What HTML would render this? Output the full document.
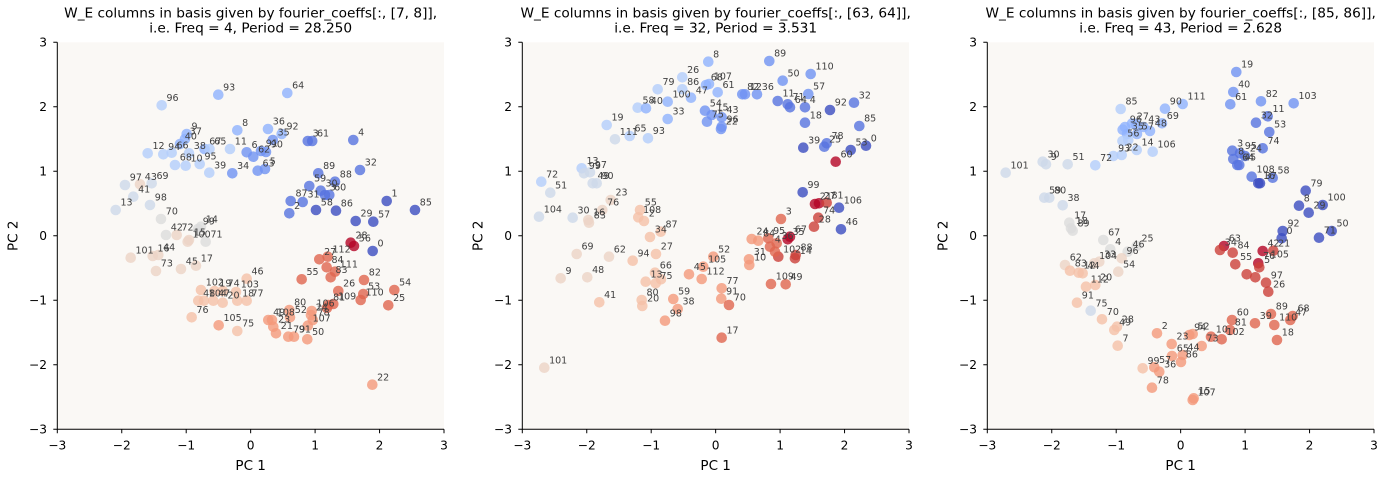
<!DOCTYPE html>
<html><head><meta charset="utf-8"><style>
html,body{margin:0;padding:0;background:#fff}
svg{display:block}
text{font-family:"DejaVu Sans","Liberation Sans",sans-serif}
.pts circle{opacity:.8}
.lb text{font-size:9.5px;fill:#404040}
.tk{font-size:12.2px;fill:#000}
.ax{font-size:13.5px;fill:#000}
.ti{font-size:13.7px;fill:#000}
.b1{fill:#3b4cc0}.b2{fill:#5673e0}.b3{fill:#6f92f3}.b4{fill:#8fb1fe}.b5{fill:#b3cdfb}
.g{fill:#cdd8ea}.g2{fill:#dcdcdc}.t{fill:#ecd3c5}.s1{fill:#f5c0a7}.s2{fill:#f4987a}
.r1{fill:#e0654f}.r2{fill:#cc403a}.r3{fill:#b40426}
</style></head><body>
<svg width="1386" height="481" viewBox="0 0 1386 481" xmlns="http://www.w3.org/2000/svg">
<defs>
<g id="axes">
<rect x="57.3" y="42.3" width="386.7" height="387" fill="#faf8f5"/>
</g>
<g id="frame">
<path d="M57.3 42.3V429.3H444" fill="none" stroke="#000" stroke-width="1"/>
<path d="M53.3 42.3H57.3M53.3 106.8H57.3M53.3 171.3H57.3M53.3 235.8H57.3M53.3 300.3H57.3M53.3 364.8H57.3M53.3 429.3H57.3M57.3 429.3V433.3M121.75 429.3V433.3M186.2 429.3V433.3M250.65 429.3V433.3M315.1 429.3V433.3M379.55 429.3V433.3M444 429.3V433.3" stroke="#000" stroke-width="1"/>
<g class="tk" text-anchor="end">
<text x="47" y="46.7">3</text><text x="47" y="111.2">2</text><text x="47" y="175.7">1</text><text x="47" y="240.2">0</text><text x="47" y="304.7">−1</text><text x="47" y="369.2">−2</text><text x="47" y="433.7">−3</text>
</g>
<g class="tk" text-anchor="middle">
<text x="57.3" y="449.3">−3</text><text x="121.75" y="449.3">−2</text><text x="186.2" y="449.3">−1</text><text x="250.65" y="449.3">0</text><text x="315.1" y="449.3">1</text><text x="379.55" y="449.3">2</text><text x="444" y="449.3">3</text>
</g>
<text class="ax" x="250.65" y="470" text-anchor="middle">PC 1</text>
<text class="ax" transform="translate(17.5,235.8) rotate(-90)" text-anchor="middle">PC 2</text>
</g>
</defs>

<!-- Panel 1 -->
<g>
<use href="#axes"/>
<g class="pts">
<circle r="5.3" cx="161.7" cy="105.3" class="b5"/><circle r="5.3" cx="218.3" cy="94.7" class="b4"/><circle r="5.3" cx="287.3" cy="93" class="b4"/><circle r="5.3" cx="186.7" cy="134" class="b4"/><circle r="5.3" cx="185" cy="139" class="b4"/><circle r="5.3" cx="180" cy="144" class="b4"/><circle r="5.3" cx="147.7" cy="153.3" class="b5"/><circle r="5.3" cx="163.3" cy="154.3" class="b5"/><circle r="5.3" cx="171.7" cy="152.7" class="b5"/><circle r="5.3" cx="189" cy="153.3" class="b5"/><circle r="5.3" cx="204.5" cy="149" class="b4"/><circle r="5.3" cx="209.5" cy="149" class="b5"/><circle r="5.3" cx="230" cy="149" class="b5"/><circle r="5.3" cx="237.3" cy="130.3" class="b4"/><circle r="5.3" cx="268" cy="129" class="b4"/><circle r="5.3" cx="272.8" cy="140" class="b3"/><circle r="5.3" cx="281.7" cy="134" class="b4"/><circle r="5.3" cx="246.7" cy="152.3" class="b3"/><circle r="5.3" cx="253.3" cy="156.7" class="b3"/><circle r="5.3" cx="261" cy="151" class="b3"/><circle r="5.3" cx="266" cy="152" class="b3"/><circle r="5.3" cx="257.7" cy="170.7" class="b3"/><circle r="5.3" cx="265" cy="169" class="b3"/><circle r="5.3" cx="232.3" cy="173.3" class="b3"/><circle r="5.3" cx="209.3" cy="172.7" class="b5"/><circle r="5.3" cx="175" cy="165" class="b5"/><circle r="5.3" cx="185.7" cy="165.7" class="b5"/><circle r="5.3" cx="199.7" cy="164" class="b5"/>
<circle r="5.3" cx="125" cy="185" class="g"/><circle r="5.3" cx="140" cy="184.3" class="t"/><circle r="5.3" cx="151.7" cy="183.3" class="g"/><circle r="5.3" cx="133.3" cy="196.7" class="g"/><circle r="5.3" cx="150" cy="205" class="g"/><circle r="5.3" cx="115.7" cy="210" class="g"/><circle r="5.3" cx="161" cy="219" class="g2"/><circle r="5.3" cx="201" cy="226.7" class="g2"/><circle r="5.3" cx="198" cy="229" class="g2"/><circle r="5.3" cx="166" cy="235" class="g2"/><circle r="5.3" cx="176.7" cy="235" class="t"/><circle r="5.3" cx="189" cy="240" class="t"/><circle r="5.3" cx="187.7" cy="241.7" class="t"/><circle r="5.3" cx="205.7" cy="241.7" class="g2"/>
<circle r="5.3" cx="130.7" cy="257.7" class="t"/><circle r="5.3" cx="152.7" cy="256" class="t"/><circle r="5.3" cx="158.3" cy="255" class="t"/><circle r="5.3" cx="156" cy="271" class="t"/><circle r="5.3" cx="181" cy="269" class="t"/><circle r="5.3" cx="196" cy="265.7" class="t"/>
<circle r="5.3" cx="246.7" cy="278.7" class="s1"/><circle r="5.3" cx="201" cy="290" class="s1"/><circle r="5.3" cx="214.5" cy="291" class="s1"/><circle r="5.3" cx="222.8" cy="291" class="s1"/><circle r="5.3" cx="236" cy="292" class="s1"/><circle r="5.3" cx="198.3" cy="300.7" class="s1"/><circle r="5.3" cx="204" cy="300.7" class="s1"/><circle r="5.3" cx="213.3" cy="300.7" class="s1"/><circle r="5.3" cx="222.7" cy="302.7" class="s1"/><circle r="5.3" cx="237.3" cy="300.7" class="s1"/><circle r="5.3" cx="246.7" cy="300.7" class="s1"/><circle r="5.3" cx="191.7" cy="317.3" class="s1"/><circle r="5.3" cx="218.7" cy="325.3" class="s2"/><circle r="5.3" cx="237.3" cy="331" class="s1"/>
<circle r="5.3" cx="289.3" cy="310" class="s2"/><circle r="5.3" cx="290" cy="317.3" class="s2"/><circle r="5.3" cx="268.3" cy="320" class="s2"/><circle r="5.3" cx="272" cy="320" class="s2"/><circle r="5.3" cx="273.3" cy="326.7" class="s2"/><circle r="5.3" cx="276" cy="333.3" class="s2"/><circle r="5.3" cx="288.3" cy="336.7" class="s2"/><circle r="5.3" cx="294" cy="336.7" class="s2"/><circle r="5.3" cx="307.3" cy="339.3" class="s2"/><circle r="5.3" cx="311" cy="315" class="s2"/><circle r="5.3" cx="312.8" cy="320" class="s2"/><circle r="5.3" cx="307.8" cy="325.7" class="s2"/><circle r="5.3" cx="311.7" cy="311" class="s2"/>
<circle r="5.3" cx="327" cy="308" class="r1"/><circle r="5.3" cx="328.3" cy="305" class="r1"/><circle r="5.3" cx="333.3" cy="304" class="r1"/><circle r="5.3" cx="338.3" cy="291" class="r1"/><circle r="5.3" cx="301.7" cy="279.3" class="r1"/><circle r="5.3" cx="319.3" cy="259.3" class="r1"/><circle r="5.3" cx="327.7" cy="256.7" class="r1"/><circle r="5.3" cx="326.7" cy="267.3" class="r1"/><circle r="5.3" cx="335" cy="271.7" class="r1"/><circle r="5.3" cx="330.7" cy="277.3" class="r1"/><circle r="5.3" cx="350.7" cy="242.7" class="r3"/><circle r="5.3" cx="354" cy="246" class="r3"/><circle r="5.3" cx="372.7" cy="251" class="b1"/><circle r="5.3" cx="364" cy="280" class="r1"/><circle r="5.3" cx="363.3" cy="294" class="r1"/><circle r="5.3" cx="360.7" cy="300" class="r1"/><circle r="5.3" cx="394.3" cy="290" class="r1"/><circle r="5.3" cx="388.3" cy="305.3" class="r1"/><circle r="5.3" cx="372.3" cy="384.7" class="s2"/>
<circle r="5.3" cx="307.8" cy="141" class="b2"/><circle r="5.3" cx="312.2" cy="141" class="b2"/><circle r="5.3" cx="353.3" cy="140" class="b2"/><circle r="5.3" cx="360" cy="170" class="b2"/><circle r="5.3" cx="318.3" cy="173.3" class="b2"/><circle r="5.3" cx="335" cy="181.7" class="b2"/><circle r="5.3" cx="309.3" cy="186" class="b2"/><circle r="5.3" cx="320.7" cy="190.7" class="b2"/><circle r="5.3" cx="325" cy="195" class="b2"/><circle r="5.3" cx="329.3" cy="195" class="b2"/><circle r="5.3" cx="290.7" cy="201" class="b2"/><circle r="5.3" cx="302.7" cy="202" class="b2"/><circle r="5.3" cx="289.3" cy="213.3" class="b2"/><circle r="5.3" cx="316" cy="210" class="b1"/><circle r="5.3" cx="336" cy="210.7" class="b1"/><circle r="5.3" cx="386.7" cy="201" class="b1"/><circle r="5.3" cx="415" cy="210" class="b1"/><circle r="5.3" cx="355.7" cy="221" class="b1"/><circle r="5.3" cx="373.3" cy="221.7" class="b1"/>
</g>
<g class="lb" transform="translate(4.8,-4.3)">
<text x="161.7" y="105.3">96</text><text x="218.3" y="94.7">93</text><text x="287.3" y="93">64</text><text x="186.7" y="134">9</text><text x="185" y="139">37</text><text x="180" y="144">40</text><text x="147.7" y="153.3">12</text><text x="163.3" y="154.3">94</text><text x="171.7" y="152.7">66</text><text x="189" y="153.3">38</text><text x="204.5" y="149">67</text><text x="209.5" y="149">65</text><text x="230" y="149">11</text><text x="237.3" y="130.3">8</text><text x="268" y="129">36</text><text x="272.8" y="140">35</text><text x="281.7" y="134">92</text><text x="246.7" y="152.3">6</text><text x="253.3" y="156.7">62</text><text x="261" y="151">91</text><text x="266" y="152">90</text><text x="257.7" y="170.7">63</text><text x="265" y="169">5</text><text x="232.3" y="173.3">34</text><text x="209.3" y="172.7">39</text><text x="175" y="165">68</text><text x="185.7" y="165.7">10</text><text x="199.7" y="164">95</text>
<text x="125" y="185">97</text><text x="140" y="184.3">43</text><text x="151.7" y="183.3">69</text><text x="133.3" y="196.7">41</text><text x="150" y="205">98</text><text x="115.7" y="210">13</text><text x="161" y="219">70</text><text x="201" y="226.7">14</text><text x="198" y="229">99</text><text x="166" y="235">42</text><text x="176.7" y="235">72</text><text x="189" y="240">15</text><text x="187.7" y="241.7">100</text><text x="205.7" y="241.7">71</text>
<text x="130.7" y="257.7">101</text><text x="152.7" y="256">16</text><text x="158.3" y="255">44</text><text x="156" y="271">73</text><text x="181" y="269">45</text><text x="196" y="265.7">17</text>
<text x="246.7" y="278.7">46</text><text x="201" y="290">102</text><text x="214.5" y="291">19</text><text x="222.8" y="291">74</text><text x="236" y="292">103</text><text x="198.3" y="300.7">48</text><text x="204" y="300.7">104</text><text x="213.3" y="300.7">47</text><text x="222.7" y="302.7">20</text><text x="237.3" y="300.7">18</text><text x="246.7" y="300.7">77</text><text x="191.7" y="317.3">76</text><text x="218.7" y="325.3">105</text><text x="237.3" y="331">75</text>
<text x="289.3" y="310">80</text><text x="290" y="317.3">52</text><text x="268.3" y="320">49</text><text x="272" y="320">108</text><text x="273.3" y="326.7">23</text><text x="276" y="333.3">21</text><text x="288.3" y="336.7">79</text><text x="294" y="336.7">91</text><text x="307.3" y="339.3">50</text><text x="311" y="315">24</text><text x="312.8" y="320">78</text><text x="307.8" y="325.7">107</text><text x="311.7" y="311">106</text>
<text x="328.3" y="305">81</text><text x="333.3" y="304">109</text><text x="338.3" y="291">26</text><text x="301.7" y="279.3">55</text><text x="319.3" y="259.3">27</text><text x="327.7" y="256.7">112</text><text x="326.7" y="267.3">84</text><text x="335" y="271.7">111</text><text x="330.7" y="277.3">83</text><text x="350.7" y="242.7">28</text><text x="354" y="246">56</text><text x="372.7" y="251">0</text><text x="364" y="280">82</text><text x="363.3" y="294">53</text><text x="360.7" y="300">110</text><text x="394.3" y="290">54</text><text x="388.3" y="305.3">25</text><text x="372.3" y="384.7">22</text>
<text x="307.8" y="141">3</text><text x="312.2" y="141">61</text><text x="353.3" y="140">4</text><text x="360" y="170">32</text><text x="318.3" y="173.3">89</text><text x="335" y="181.7">88</text><text x="309.3" y="186">59</text><text x="320.7" y="190.7">30</text><text x="325" y="195">3</text><text x="329.3" y="195">60</text><text x="290.7" y="201">87</text><text x="302.7" y="202">31</text><text x="289.3" y="213.3">2</text><text x="316" y="210">58</text><text x="336" y="210.7">86</text><text x="386.7" y="201">1</text><text x="415" y="210">85</text><text x="355.7" y="221">29</text><text x="373.3" y="221.7">57</text>
</g>
<use href="#frame"/>
<text class="ti" x="250.65" y="17.3" text-anchor="middle">W_E columns in basis given by fourier_coeffs[:, [7, 8]],</text>
<text class="ti" x="250.65" y="32.7" text-anchor="middle">i.e. Freq = 4, Period = 28.250</text>
</g>

<!-- Panel 2 -->
<g transform="translate(465,0)">
<use href="#axes"/>
<g class="pts">
<circle r="5.3" cx="243.3" cy="61.7" class="b4"/><circle r="5.3" cx="304.3" cy="61" class="b3"/><circle r="5.3" cx="345.7" cy="74" class="b3"/><circle r="5.3" cx="317.7" cy="80.7" class="b3"/><circle r="5.3" cx="343.3" cy="94" class="b3"/><circle r="5.3" cx="217.3" cy="77.3" class="b5"/><circle r="5.3" cx="241" cy="85" class="b4"/><circle r="5.3" cx="244" cy="84" class="b4"/><circle r="5.3" cx="252.7" cy="92.3" class="b4"/><circle r="5.3" cx="192.7" cy="89.3" class="b5"/><circle r="5.3" cx="217.3" cy="89.3" class="b5"/><circle r="5.3" cx="226" cy="97.7" class="b4"/><circle r="5.3" cx="202.7" cy="101.7" class="b4"/><circle r="5.3" cx="172.7" cy="107.7" class="b5"/><circle r="5.3" cx="181" cy="108.3" class="b4"/><circle r="5.3" cx="202.7" cy="119" class="b4"/>
<circle r="5.3" cx="277.3" cy="94.3" class="b3"/><circle r="5.3" cx="280" cy="94.3" class="b3"/><circle r="5.3" cx="292" cy="94.3" class="b3"/><circle r="5.3" cx="312.7" cy="101" class="b2"/><circle r="5.3" cx="322.7" cy="104.3" class="b2"/><circle r="5.3" cx="325" cy="107.3" class="b2"/><circle r="5.3" cx="340" cy="107.3" class="b2"/><circle r="5.3" cx="365" cy="110" class="b1"/><circle r="5.3" cx="389" cy="102.7" class="b2"/><circle r="5.3" cx="394.3" cy="126" class="b2"/><circle r="5.3" cx="340" cy="122.7" class="b2"/>
<circle r="5.3" cx="240" cy="110.7" class="b3"/><circle r="5.3" cx="246.7" cy="115" class="b3"/><circle r="5.3" cx="256.7" cy="117.3" class="b3"/><circle r="5.3" cx="242" cy="121.7" class="b3"/><circle r="5.3" cx="256.7" cy="126.7" class="b3"/><circle r="5.3" cx="256" cy="129" class="b3"/>
<circle r="5.3" cx="141.7" cy="125" class="b5"/><circle r="5.3" cx="150" cy="139.3" class="g"/><circle r="5.3" cx="164.7" cy="136" class="b5"/><circle r="5.3" cx="183" cy="138.3" class="b5"/>
<circle r="5.3" cx="338.3" cy="147.7" class="b1"/><circle r="5.3" cx="361.7" cy="143.3" class="b2"/><circle r="5.3" cx="359.3" cy="146.7" class="b2"/><circle r="5.3" cx="385.7" cy="150" class="b1"/><circle r="5.3" cx="401" cy="145.7" class="b1"/><circle r="5.3" cx="370.7" cy="161.7" class="r3"/>
<circle r="5.3" cx="116.7" cy="168.3" class="b5"/><circle r="5.3" cx="119" cy="173.3" class="g"/><circle r="5.3" cx="125" cy="172.3" class="g"/><circle r="5.3" cx="127.7" cy="183.3" class="g"/><circle r="5.3" cx="131.7" cy="183.3" class="g"/><circle r="5.3" cx="76.3" cy="181.7" class="b5"/><circle r="5.3" cx="85.3" cy="192.7" class="g"/><circle r="5.3" cx="145.7" cy="200" class="t"/><circle r="5.3" cx="137.3" cy="210" class="t"/><circle r="5.3" cx="74" cy="216.7" class="g"/><circle r="5.3" cx="107.7" cy="217.7" class="g"/><circle r="5.3" cx="123.3" cy="220" class="t"/><circle r="5.3" cx="124" cy="222.7" class="t"/>
<circle r="5.3" cx="175" cy="210" class="s1"/><circle r="5.3" cx="173.3" cy="217.3" class="s1"/><circle r="5.3" cx="179" cy="221" class="s1"/><circle r="5.3" cx="185" cy="237" class="s1"/><circle r="5.3" cx="195.7" cy="231.7" class="s1"/>
<circle r="5.3" cx="337.7" cy="192.3" class="b1"/><circle r="5.3" cx="350" cy="204" class="r3"/><circle r="5.3" cx="354" cy="203.3" class="r3"/><circle r="5.3" cx="361.7" cy="202.7" class="r2"/><circle r="5.3" cx="374" cy="207.7" class="b1"/><circle r="5.3" cx="353.3" cy="217.7" class="r2"/><circle r="5.3" cx="349" cy="226.7" class="r2"/><circle r="5.3" cx="316" cy="219" class="r1"/><circle r="5.3" cx="376" cy="229.3" class="b1"/>
<circle r="5.3" cx="95.7" cy="278.3" class="t"/><circle r="5.3" cx="111.7" cy="254" class="t"/><circle r="5.3" cx="144" cy="256.7" class="t"/><circle r="5.3" cx="122.3" cy="277.3" class="t"/><circle r="5.3" cx="167.7" cy="260.7" class="s1"/><circle r="5.3" cx="191" cy="254" class="s1"/><circle r="5.3" cx="134.3" cy="302.3" class="s1"/><circle r="5.3" cx="190" cy="272.7" class="s1"/><circle r="5.3" cx="180.7" cy="281.7" class="s1"/><circle r="5.3" cx="190.7" cy="283.3" class="s1"/><circle r="5.3" cx="196" cy="279.3" class="s1"/>
<circle r="5.3" cx="224" cy="274.3" class="s2"/><circle r="5.3" cx="238.3" cy="266.7" class="s2"/><circle r="5.3" cx="248.3" cy="256.7" class="s2"/><circle r="5.3" cx="236.7" cy="279" class="s2"/><circle r="5.3" cx="176.7" cy="300" class="s1"/><circle r="5.3" cx="177.3" cy="306" class="s1"/><circle r="5.3" cx="208.3" cy="299" class="s2"/><circle r="5.3" cx="212.7" cy="309" class="s2"/><circle r="5.3" cx="200" cy="320.7" class="s2"/><circle r="5.3" cx="256.7" cy="288.3" class="s2"/><circle r="5.3" cx="256.3" cy="298.7" class="s2"/><circle r="5.3" cx="264" cy="305" class="r1"/><circle r="5.3" cx="256.7" cy="337.7" class="r1"/><circle r="5.3" cx="79.3" cy="367.7" class="t"/>
<circle r="5.3" cx="284" cy="259.3" class="s2"/><circle r="5.3" cx="284.3" cy="265" class="s2"/><circle r="5.3" cx="286.7" cy="239" class="s2"/><circle r="5.3" cx="293.3" cy="240.7" class="s2"/><circle r="5.3" cx="303.3" cy="238.3" class="r1"/><circle r="5.3" cx="305" cy="246.7" class="r1"/><circle r="5.3" cx="322.7" cy="239.3" class="r3"/><circle r="5.3" cx="325" cy="236.7" class="r3"/><circle r="5.3" cx="311.7" cy="243.3" class="r1"/><circle r="5.3" cx="313.3" cy="256.7" class="r2"/><circle r="5.3" cx="310" cy="251.7" class="r1"/><circle r="5.3" cx="330.7" cy="255" class="r2"/><circle r="5.3" cx="330" cy="258.3" class="r2"/><circle r="5.3" cx="306" cy="284" class="r1"/><circle r="5.3" cx="320.7" cy="284.3" class="r1"/>
</g>
<g class="lb" transform="translate(4.8,-4.3)">
<text x="243.3" y="61.7">8</text><text x="304.3" y="61">89</text><text x="345.7" y="74">110</text><text x="317.7" y="80.7">50</text><text x="343.3" y="94">57</text><text x="217.3" y="77.3">26</text><text x="241" y="85">68</text><text x="244" y="84">107</text><text x="252.7" y="92.3">61</text><text x="192.7" y="89.3">79</text><text x="217.3" y="89.3">86</text><text x="226" y="97.7">47</text><text x="202.7" y="101.7">100</text><text x="172.7" y="107.7">58</text><text x="181" y="108.3">40</text><text x="202.7" y="119">33</text>
<text x="277.3" y="94.3">82</text><text x="280" y="94.3">12</text><text x="292" y="94.3">36</text><text x="312.7" y="101">11</text><text x="322.7" y="104.3">71</text><text x="325" y="107.3">64</text><text x="340" y="107.3">4</text><text x="365" y="110">92</text><text x="389" y="102.7">32</text><text x="394.3" y="126">85</text><text x="340" y="122.7">18</text>
<text x="240" y="110.7">54</text><text x="246.7" y="115">15</text><text x="256.7" y="117.3">43</text><text x="242" y="121.7">75</text><text x="256.7" y="126.7">96</text><text x="256" y="129">22</text>
<text x="141.7" y="125">19</text><text x="150" y="139.3">111</text><text x="164.7" y="136">65</text><text x="183" y="138.3">93</text>
<text x="338.3" y="147.7">39</text><text x="361.7" y="143.3">78</text><text x="359.3" y="146.7">25</text><text x="385.7" y="150">53</text><text x="401" y="145.7">0</text><text x="370.7" y="161.7">60</text>
<text x="116.7" y="168.3">13</text><text x="119" y="173.3">99</text><text x="125" y="172.3">97</text><text x="127.7" y="183.3">49</text><text x="131.7" y="183.3">90</text><text x="76.3" y="181.7">72</text><text x="85.3" y="192.7">51</text><text x="145.7" y="200">23</text><text x="137.3" y="210">76</text><text x="74" y="216.7">104</text><text x="107.7" y="217.7">30</text><text x="123.3" y="220">16</text><text x="124" y="222.7">83</text>
<text x="175" y="210">55</text><text x="173.3" y="217.3">108</text><text x="179" y="221">2</text><text x="185" y="237">34</text><text x="195.7" y="231.7">87</text>
<text x="337.7" y="192.3">99</text><text x="350" y="204">21</text><text x="354" y="203.3">27</text><text x="361.7" y="202.7">81</text><text x="374" y="207.7">106</text><text x="353.3" y="217.7">74</text><text x="349" y="226.7">28</text><text x="316" y="219">3</text><text x="376" y="229.3">46</text>
<text x="95.7" y="278.3">9</text><text x="111.7" y="254">69</text><text x="144" y="256.7">62</text><text x="122.3" y="277.3">48</text><text x="167.7" y="260.7">94</text><text x="191" y="254">27</text><text x="134.3" y="302.3">41</text><text x="190" y="272.7">66</text><text x="180.7" y="281.7">13</text><text x="190.7" y="283.3">75</text>
<text x="224" y="274.3">45</text><text x="238.3" y="266.7">105</text><text x="248.3" y="256.7">52</text><text x="236.7" y="279">112</text><text x="176.7" y="300">80</text><text x="177.3" y="306">20</text><text x="208.3" y="299">59</text><text x="212.7" y="309">38</text><text x="200" y="320.7">98</text><text x="256.7" y="288.3">77</text><text x="256.3" y="298.7">91</text><text x="264" y="305">70</text><text x="256.7" y="337.7">17</text><text x="79.3" y="367.7">101</text>
<text x="284" y="259.3">31</text><text x="284.3" y="265">10</text><text x="286.7" y="239">24</text><text x="293.3" y="240.7">84</text><text x="303.3" y="238.3">95</text><text x="305" y="246.7">4</text><text x="322.7" y="239.3">35</text><text x="325" y="236.7">67</text><text x="311.7" y="243.3">36</text><text x="313.3" y="256.7">102</text><text x="330.7" y="255">88</text><text x="330" y="258.3">14</text><text x="306" y="284">109</text><text x="320.7" y="284.3">49</text>
</g>
<use href="#frame"/>
<text class="ti" x="250.65" y="17.3" text-anchor="middle">W_E columns in basis given by fourier_coeffs[:, [63, 64]],</text>
<text class="ti" x="250.65" y="32.7" text-anchor="middle">i.e. Freq = 32, Period = 3.531</text>
</g>

<!-- Panel 3 -->
<g transform="translate(930,0)">
<use href="#axes"/>
<g class="pts">
<circle r="5.3" cx="306.3" cy="72" class="b3"/><circle r="5.3" cx="303.3" cy="92" class="b3"/><circle r="5.3" cx="300.3" cy="104.3" class="b3"/><circle r="5.3" cx="331" cy="101.3" class="b3"/><circle r="5.3" cx="363.7" cy="103.3" class="b3"/><circle r="5.3" cx="337.7" cy="116.3" class="b2"/><circle r="5.3" cx="326" cy="122.7" class="b2"/><circle r="5.3" cx="339.3" cy="132" class="b2"/><circle r="5.3" cx="332.7" cy="148.3" class="b2"/>
<circle r="5.3" cx="190.7" cy="109" class="b5"/><circle r="5.3" cx="235" cy="108.7" class="b4"/><circle r="5.3" cx="252.7" cy="104" class="b4"/><circle r="5.3" cx="232" cy="123.3" class="b4"/><circle r="5.3" cx="195" cy="127" class="b4"/><circle r="5.3" cx="202" cy="123.6" class="b4"/><circle r="5.3" cx="206" cy="124" class="b4"/><circle r="5.3" cx="213.5" cy="127" class="b4"/><circle r="5.3" cx="220" cy="131" class="b4"/><circle r="5.3" cx="192.7" cy="129.7" class="b4"/><circle r="5.3" cx="197" cy="134" class="b4"/><circle r="5.3" cx="207" cy="134" class="b4"/><circle r="5.3" cx="192.5" cy="141" class="b5"/><circle r="5.3" cx="191.7" cy="155" class="b5"/><circle r="5.3" cx="206.7" cy="150" class="b5"/><circle r="5.3" cx="198.3" cy="140" class="b5"/><circle r="5.3" cx="222.7" cy="151.7" class="b5"/><circle r="5.3" cx="165.3" cy="165.3" class="b5"/><circle r="5.3" cx="183.3" cy="156" class="b5"/>
<circle r="5.3" cx="112.7" cy="161.7" class="g"/><circle r="5.3" cx="116" cy="164.3" class="g"/><circle r="5.3" cx="137.7" cy="164.3" class="g"/><circle r="5.3" cx="75.7" cy="172.7" class="g"/><circle r="5.3" cx="114.3" cy="197.7" class="g"/><circle r="5.3" cx="119.3" cy="197.7" class="g"/><circle r="5.3" cx="132.7" cy="205.3" class="g"/><circle r="5.3" cx="139.3" cy="222.7" class="g2"/><circle r="5.3" cx="141" cy="228.3" class="g2"/><circle r="5.3" cx="142.7" cy="230.7" class="g2"/>
<circle r="5.3" cx="302.3" cy="150.7" class="b2"/><circle r="5.3" cx="303.3" cy="159" class="b2"/><circle r="5.3" cx="307.3" cy="165" class="b2"/><circle r="5.3" cx="309.3" cy="165" class="b2"/><circle r="5.3" cx="310" cy="153.3" class="b2"/><circle r="5.3" cx="315" cy="156" class="b2"/><circle r="5.3" cx="321.7" cy="176.7" class="b2"/><circle r="5.3" cx="328.3" cy="183.3" class="b1"/><circle r="5.3" cx="330" cy="183.3" class="b1"/><circle r="5.3" cx="342.7" cy="177.7" class="b2"/>
<circle r="5.3" cx="375.7" cy="190.7" class="b1"/><circle r="5.3" cx="369" cy="205.7" class="b1"/><circle r="5.3" cx="378.7" cy="212.7" class="b1"/><circle r="5.3" cx="392.7" cy="205" class="b1"/><circle r="5.3" cx="352.7" cy="231" class="b1"/><circle r="5.3" cx="351.7" cy="238.3" class="b1"/><circle r="5.3" cx="401.7" cy="231" class="b1"/><circle r="5.3" cx="389" cy="237.7" class="b1"/>
<circle r="5.3" cx="173.3" cy="240" class="g2"/><circle r="5.3" cx="180.3" cy="249.3" class="g2"/><circle r="5.3" cx="206.7" cy="246" class="g2"/><circle r="5.3" cx="197.7" cy="251.7" class="g2"/><circle r="5.3" cx="191.7" cy="258.3" class="t"/><circle r="5.3" cx="169.3" cy="261.7" class="t"/><circle r="5.3" cx="188.3" cy="271.7" class="t"/><circle r="5.3" cx="135" cy="265" class="t"/><circle r="5.3" cx="140" cy="270.7" class="s1"/><circle r="5.3" cx="148.7" cy="272.7" class="s1"/><circle r="5.3" cx="152.7" cy="273.3" class="s1"/><circle r="5.3" cx="164.3" cy="263.3" class="t"/><circle r="5.3" cx="156" cy="286.7" class="s1"/><circle r="5.3" cx="165.3" cy="285" class="s1"/><circle r="5.3" cx="147" cy="302.7" class="s1"/><circle r="5.3" cx="160.7" cy="310.7" class="g"/><circle r="5.3" cx="172" cy="319.3" class="s1"/><circle r="5.3" cx="187" cy="326.7" class="s1"/><circle r="5.3" cx="184.3" cy="330" class="s1"/><circle r="5.3" cx="187.7" cy="345.7" class="s1"/>
<circle r="5.3" cx="227" cy="333.3" class="s2"/><circle r="5.3" cx="241.7" cy="344" class="s2"/><circle r="5.3" cx="259.3" cy="335" class="s2"/><circle r="5.3" cx="262.7" cy="334" class="s2"/><circle r="5.3" cx="242" cy="356" class="s2"/><circle r="5.3" cx="252.7" cy="355" class="s2"/><circle r="5.3" cx="251" cy="362" class="s2"/><circle r="5.3" cx="212.7" cy="368.3" class="s1"/><circle r="5.3" cx="224.3" cy="367.3" class="s2"/><circle r="5.3" cx="229.3" cy="371.7" class="s2"/><circle r="5.3" cx="222" cy="387.7" class="s2"/><circle r="5.3" cx="263.7" cy="398.3" class="s2"/><circle r="5.3" cx="262.7" cy="400" class="s2"/><circle r="5.3" cx="271.7" cy="346" class="s2"/>
<circle r="5.3" cx="281" cy="336.7" class="r1"/><circle r="5.3" cx="291.7" cy="339.3" class="r1"/><circle r="5.3" cx="302" cy="320" class="r1"/><circle r="5.3" cx="300" cy="330" class="r1"/><circle r="5.3" cx="325" cy="323.3" class="r1"/><circle r="5.3" cx="341" cy="314" class="r1"/><circle r="5.3" cx="344.3" cy="325" class="r1"/><circle r="5.3" cx="362.7" cy="316" class="r1"/><circle r="5.3" cx="360.3" cy="320" class="r1"/><circle r="5.3" cx="347" cy="340" class="r1"/>
<circle r="5.3" cx="294" cy="246" class="r3"/><circle r="5.3" cx="290" cy="250" class="r2"/><circle r="5.3" cx="302.7" cy="252.7" class="r2"/><circle r="5.3" cx="332.7" cy="251" class="r3"/><circle r="5.3" cx="343.3" cy="250.7" class="r2"/><circle r="5.3" cx="305.3" cy="264.3" class="r2"/><circle r="5.3" cx="328.3" cy="263.3" class="r3"/><circle r="5.3" cx="329.3" cy="267.3" class="r2"/><circle r="5.3" cx="336" cy="282.7" class="r2"/><circle r="5.3" cx="338.3" cy="291.7" class="r2"/><circle r="5.3" cx="316.7" cy="274.3" class="r2"/><circle r="5.3" cx="325.3" cy="277.3" class="r2"/>
</g>
<g class="lb" transform="translate(4.8,-4.3)">
<text x="306.3" y="72">19</text><text x="303.3" y="92">40</text><text x="300.3" y="104.3">61</text><text x="331" y="101.3">82</text><text x="363.7" y="103.3">103</text><text x="337.7" y="116.3">11</text><text x="326" y="122.7">32</text><text x="339.3" y="132">53</text><text x="332.7" y="148.3">74</text>
<text x="190.7" y="109">85</text><text x="235" y="108.7">90</text><text x="252.7" y="104">111</text><text x="232" y="123.3">69</text><text x="195" y="127">96</text><text x="202" y="123.6">27</text><text x="213.5" y="127">43</text><text x="220" y="131">48</text><text x="197" y="134">35</text><text x="207" y="134">57</text><text x="192.5" y="141">56</text><text x="183.3" y="156">93</text><text x="191.7" y="155">22</text><text x="206.7" y="150">14</text><text x="222.7" y="151.7">106</text><text x="165.3" y="165.3">72</text>
<text x="112.7" y="161.7">30</text><text x="116" y="164.3">9</text><text x="137.7" y="164.3">51</text><text x="75.7" y="172.7">101</text><text x="114.3" y="197.7">59</text><text x="119.3" y="197.7">80</text><text x="132.7" y="205.3">38</text><text x="139.3" y="222.7">17</text><text x="141" y="228.3">18</text><text x="142.7" y="230.7">89</text>
<text x="302.3" y="150.7">3</text><text x="303.3" y="159">8</text><text x="307.3" y="165">64</text><text x="309.3" y="165">45</text><text x="310" y="153.3">95</text><text x="315" y="156">24</text><text x="321.7" y="176.7">108</text><text x="328.3" y="183.3">16</text><text x="330" y="183.3">37</text><text x="342.7" y="177.7">58</text>
<text x="375.7" y="190.7">79</text><text x="369" y="205.7">8</text><text x="378.7" y="212.7">29</text><text x="392.7" y="205">100</text><text x="352.7" y="231">92</text><text x="351.7" y="238.3">0</text><text x="401.7" y="231">50</text><text x="389" y="237.7">71</text>
<text x="173.3" y="240">67</text><text x="180.3" y="249.3">4</text><text x="206.7" y="246">25</text><text x="197.7" y="251.7">46</text><text x="191.7" y="258.3">96</text><text x="169.3" y="261.7">33</text><text x="188.3" y="271.7">54</text><text x="135" y="265">62</text><text x="140" y="270.7">83</text><text x="148.7" y="272.7">12</text><text x="152.7" y="273.3">44</text><text x="164.3" y="263.3">104</text><text x="156" y="286.7">112</text><text x="165.3" y="285">20</text><text x="147" y="302.7">91</text><text x="160.7" y="310.7">75</text><text x="172" y="319.3">70</text><text x="187" y="326.7">28</text><text x="184.3" y="330">49</text><text x="187.7" y="345.7">7</text>
<text x="227" y="333.3">2</text><text x="241.7" y="344">23</text><text x="259.3" y="335">94</text><text x="262.7" y="334">52</text><text x="242" y="356">65</text><text x="252.7" y="355">44</text><text x="251" y="362">86</text><text x="212.7" y="368.3">99</text><text x="224.3" y="367.3">57</text><text x="229.3" y="371.7">36</text><text x="222" y="387.7">78</text><text x="263.7" y="398.3">15</text><text x="262.7" y="400">107</text><text x="271.7" y="346">73</text>
<text x="281" y="336.7">10</text><text x="291.7" y="339.3">102</text><text x="302" y="320">60</text><text x="300" y="330">81</text><text x="325" y="323.3">39</text><text x="341" y="314">89</text><text x="344.3" y="325">110</text><text x="362.7" y="316">68</text><text x="360.3" y="320">47</text><text x="347" y="340">18</text>
<text x="294" y="246">63</text><text x="290" y="250">34</text><text x="302.7" y="252.7">84</text><text x="332.7" y="251">42</text><text x="343.3" y="250.7">21</text><text x="305.3" y="264.3">55</text><text x="328.3" y="263.3">76</text><text x="329.3" y="267.3">5</text><text x="336" y="282.7">97</text><text x="338.3" y="291.7">26</text><text x="336" y="262">105</text>
</g>
<use href="#frame"/>
<text class="ti" x="250.65" y="17.3" text-anchor="middle">W_E columns in basis given by fourier_coeffs[:, [85, 86]],</text>
<text class="ti" x="250.65" y="32.7" text-anchor="middle">i.e. Freq = 43, Period = 2.628</text>
</g>
</svg>
</body></html>
